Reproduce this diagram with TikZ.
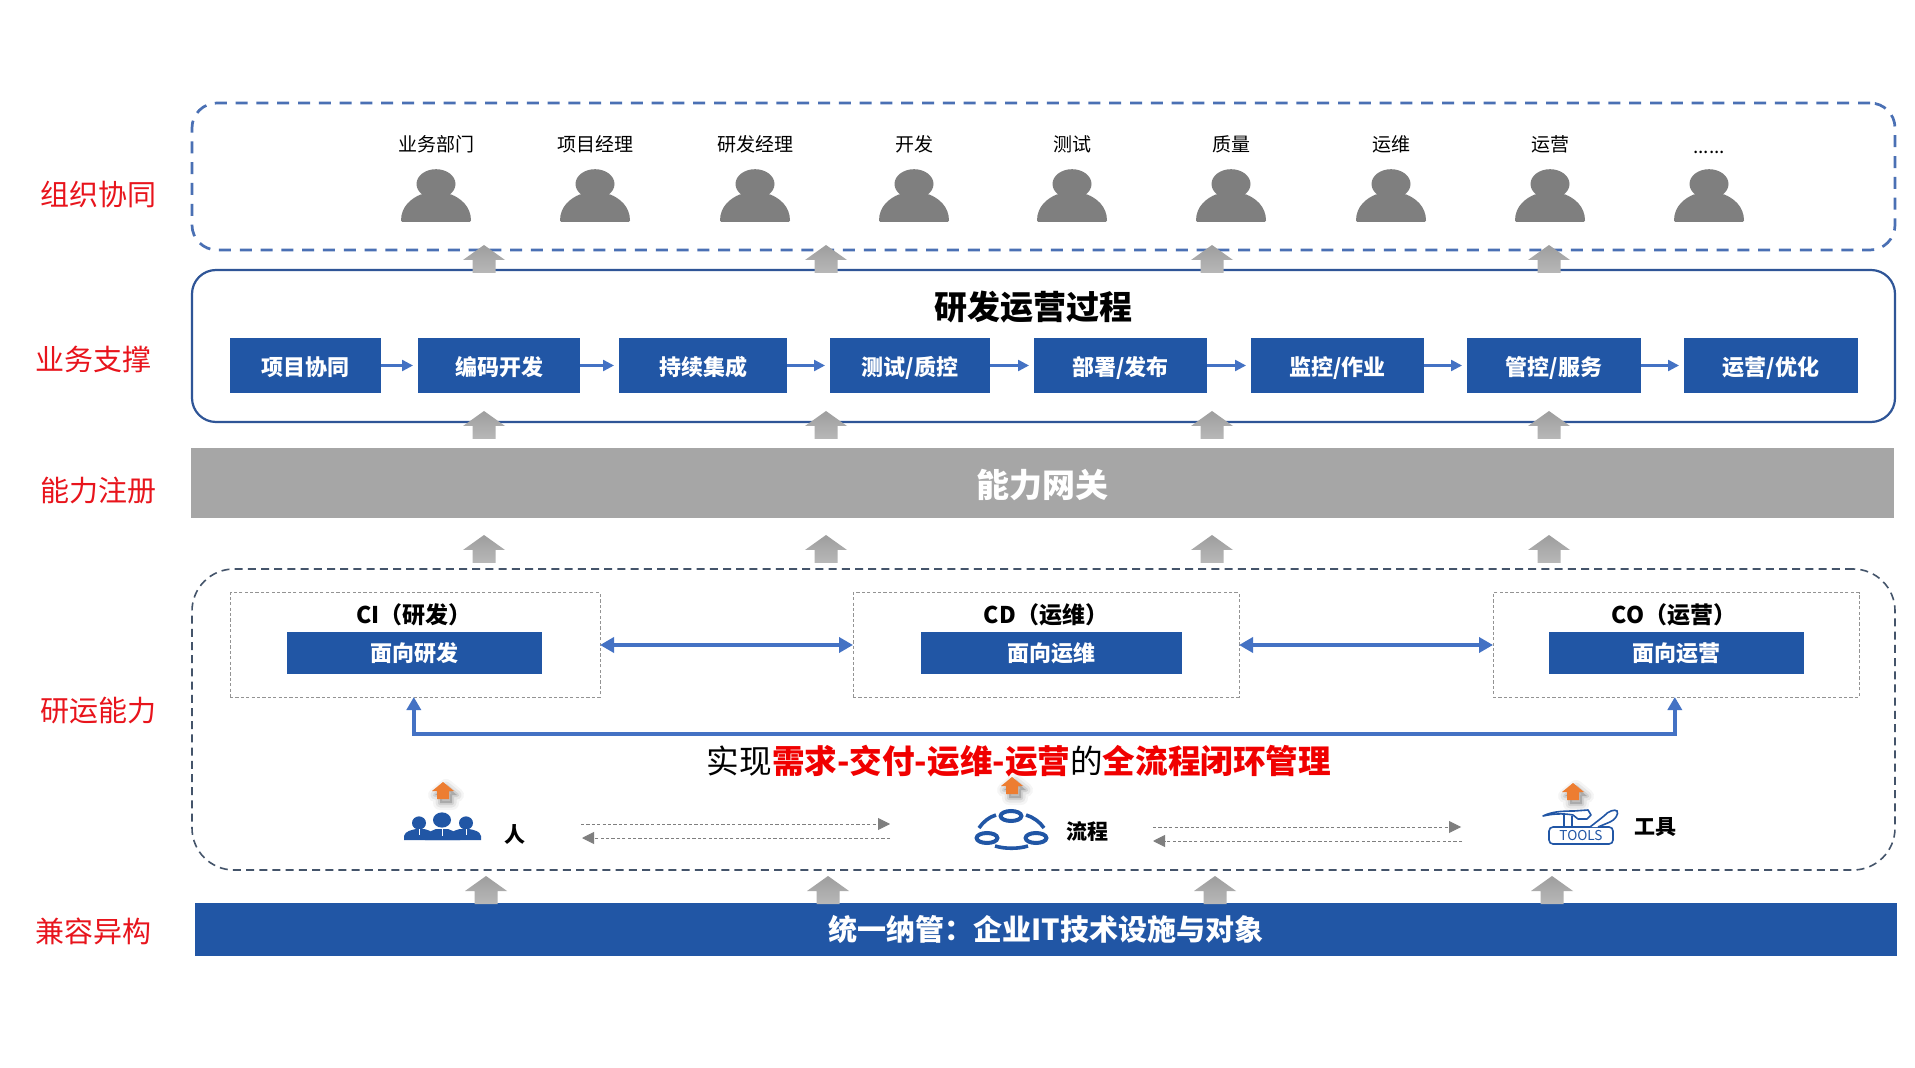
\documentclass[tikz,border=0pt]{standalone}
\usepackage{fontspec}
\setmainfont{Noto Sans CJK SC}
\usetikzlibrary{arrows.meta}
\definecolor{boxblue}{HTML}{2156A5}
\definecolor{lineblue}{HTML}{4472C4}
\definecolor{outline}{HTML}{2F5597}
\definecolor{dashblue}{HTML}{4A70B4}
\definecolor{capdash}{HTML}{44546A}
\definecolor{persongray}{HTML}{7F7F7F}
\definecolor{gatewaygray}{HTML}{A6A6A6}
\definecolor{labelred}{HTML}{E8141C}
\definecolor{emred}{HTML}{F00000}
\definecolor{orangeup}{HTML}{ED7D31}
\newcommand\sixdots{\raisebox{-0.9pt}[8.4pt][1.1pt]{......}}
\tikzset{
  boxsize/.style 2 args={minimum width=#1*0.5pt,minimum height=#2*0.5pt,inner sep=0pt,outer sep=0pt},
  sidelabel/.style={text=labelred,font=\fontsize{14.5}{16}\selectfont,inner sep=0pt},
  rolelabel/.style={text=black,font=\fontsize{9.5}{11}\selectfont,inner sep=0pt},
  stagebox/.style={fill=boxblue,text=white,font=\fontsize{11}{13}\selectfont\bfseries},
  processbox/.style={stagebox,text height=10.4pt,text depth=0pt},
  capframe/.style={draw=gray!85,line width=0.5pt,dash pattern=on 1.6pt off 1.1pt},
  caphead/.style={text=black,font=\fontsize{11.5}{13}\selectfont\bfseries,inner sep=0pt},
  iconlabel/.style={text=black,font=\fontsize{10.5}{12}\selectfont\bfseries,inner sep=0pt},
  flowarrow/.style={draw=lineblue,line width=1.2pt,-{Triangle[length=5.5pt,width=5.5pt]},shorten >=2.5pt},
  bothways/.style={draw=lineblue,line width=2.4pt,{Triangle[length=7pt,width=7.5pt]}-{Triangle[length=7pt,width=7.5pt]}},
  looparrow/.style={draw=lineblue,line width=2.3pt,{Triangle[length=6.5pt,width=7pt]}-{Triangle[length=6.5pt,width=7pt]}},
  dotarrow/.style={draw=persongray,line width=0.45pt,dash pattern=on 1.6pt off 1.1pt,-{Triangle[length=6pt,width=6pt]}},
  person/.pic={
    \fill[persongray,rounded corners=0.7pt] (-35,38) .. controls (-35,22) and (-24,14) .. (-14,10) -- (14,10) .. controls (24,14) and (35,22) .. (35,38) -- cycle;
    \fill[persongray] (0,0) ellipse [x radius=9.75pt,y radius=7.4pt];
  },
  grayup/.pic={
    \shade[top color=gatewaygray!95!black,bottom color=gatewaygray!80!white] (0,0) -- (21,15) -- (11.5,15) -- (11.5,28) -- (-11.5,28) -- (-11.5,15) -- (-21,15) -- cycle;
  },
  orangeup/.pic={
    \foreach \w/\o in {7pt/0.04,4.5pt/0.06,2pt/0.09}{
      \draw[black,opacity=\o,line width=\w,line join=round,fill=black] (3,4) -- (14,13) -- (9,13) -- (9,21) -- (-3,21) -- (-3,13) -- (-8,13) -- cycle;
    }
    \fill[orangeup] (0,0) -- (11,9) -- (6,9) -- (6,17) -- (-6,17) -- (-6,9) -- (-11,9) -- cycle;
  },
}
\begin{document}
\begin{tikzpicture}[x=0.5pt,y=-0.5pt]
\useasboundingbox (0,0) rectangle (1915,1068);
\fill[white] (0,0) rectangle (1915,1068);

% containers
\node[boxsize={1703}{147},rounded corners=12.5pt,draw=dashblue,line width=1.35pt,dash pattern=on 6pt off 4.4pt] (org) at (1043.5,176.5) {};
\node[boxsize={1703}{152},rounded corners=12pt,draw=outline,line width=1.1pt] (proc) at (1043.5,346) {};
\node[boxsize={1703}{70},fill=gatewaygray,text=white,font=\fontsize{16.5}{19}\selectfont\bfseries,text height=14.6pt,text depth=0.9pt] (gate) at (1042.5,483.5) {能力网关};
\node[boxsize={1703}{301},rounded corners=21pt,draw=capdash,line width=0.8pt,dash pattern=on 4pt off 2.6pt] (cap) at (1043.5,719.5) {};
\node[boxsize={1702}{53},fill=boxblue,text=white,font=\fontsize{14.5}{17}\selectfont\bfseries] (base) at (1046,929.5) {统一纳管：企业IT技术设施与对象};

% side labels
\node[sidelabel] (l1) at (98,195) {组织协同};
\node[sidelabel] (l2) at (93,359) {业务支撑};
\node[sidelabel] (l3) at (98,491) {能力注册};
\node[sidelabel] (l4) at (98,711) {研运能力};
\node[sidelabel] (l5) at (93,931) {兼容异构};

% roles
\foreach \x/\t [count=\i] in {436/业务部门,595/项目经理,755/研发经理,914/开发,1072/测试,1231/质量,1391/运维,1550/运营,1709/\sixdots}{
  \node[rolelabel] (role\i) at (\x,144) {\t};
  \pic at (\x,184) {person};
}

% process
\node[text=black,font=\fontsize{16.5}{19}\selectfont\bfseries,inner sep=0pt] (ptitle) at (1033,307) {研发运营过程};
\node[processbox,boxsize={151}{55}] (s1) at (305.5,365.5) {项目协同};
\node[processbox,boxsize={162}{55}] (s2) at (499,365.5) {编码开发};
\node[processbox,boxsize={168}{55}] (s3) at (703,365.5) {持续集成};
\node[processbox,boxsize={160}{55}] (s4) at (910,365.5) {测试/质控};
\node[processbox,boxsize={173}{55}] (s5) at (1120.5,365.5) {部署/发布};
\node[processbox,boxsize={173}{55}] (s6) at (1337.5,365.5) {监控/作业};
\node[processbox,boxsize={174}{55}] (s7) at (1554,365.5) {管控/服务};
\node[processbox,boxsize={174}{55}] (s8) at (1771,365.5) {运营/优化};
\foreach \a/\b in {s1/s2,s2/s3,s3/s4,s4/s5,s5/s6,s6/s7,s7/s8}{
  \draw[flowarrow] (\a) -- (\b);
}

% capability frames
\node[capframe,boxsize={370}{104}] (ci) at (415,645) {};
\node[capframe,boxsize={386}{104}] (cd) at (1046,645) {};
\node[capframe,boxsize={366}{104}] (co) at (1676,645) {};
\node[caphead] (cih) at (414,615) {CI（研发）};
\node[caphead] (cdh) at (1046,615) {CD（运维）};
\node[caphead] (coh) at (1674,615) {CO（运营）};
\node[stagebox,boxsize={255}{42}] (cib) at (414.5,653) {面向研发};
\node[stagebox,boxsize={261}{42}] (cdb) at (1051.5,653) {面向运维};
\node[stagebox,boxsize={255}{42}] (cob) at (1676.5,653) {面向运营};
\draw[bothways] (ci) -- (cd);
\draw[bothways] (cd) -- (co);
\draw[looparrow] ([xshift=-0.6pt]ci.south) -- ++(0,37) -| ([xshift=-0.6pt]co.south);

\node[inner sep=0pt,text=black,font=\fontsize{16.3}{19}\selectfont] (goal) at (1019,761) {实现\textcolor{emred}{\bfseries 需求-交付-运维-运营}的\textcolor{emred}{\bfseries 全流程闭环管理}};

% gray block arrows
\foreach \x in {484,826,1212,1549}{
  \pic at (\x,245) {grayup};
  \pic at (\x,411) {grayup};
  \pic at (\x,535) {grayup};
}
\foreach \x in {486,828,1215,1552}{
  \pic at (\x,876) {grayup};
}

% people icon
\pic at (443,782) {orangeup};
\fill[boxblue] (404,840) -- (404,836) .. controls (405,831) and (412,830) .. (416,829) -- (424,829) .. controls (428,830) and (431,831) .. (433,833) -- (451,833) .. controls (453,831) and (456,830) .. (460,829) -- (469,829) .. controls (474,830) and (480,831) .. (481,836) -- (481,840) -- cycle;
\fill[boxblue] (425,840) .. controls (425,832) and (432,831) .. (436,829) -- (448,829) .. controls (452,831) and (460,832) .. (460,840) -- cycle;
\fill[boxblue] (419,823) ellipse [x radius=3.5pt,y radius=3.3pt];
\fill[boxblue] (442,820) ellipse [x radius=4.5pt,y radius=3.8pt];
\fill[boxblue] (466,823) ellipse [x radius=3.5pt,y radius=3.3pt];
\draw[white,line width=0.5pt] (419,829) -- (419,835) (442,829) -- (442,836) (466,829) -- (466,835);
\node[iconlabel] (ren) at (515,835) {人};

% process icon
\pic at (1012,777) {orangeup};
\foreach \x/\y in {1011/816,987/838,1036/838}{
  \draw[boxblue,line width=2pt] (\x,\y) ellipse [x radius=5.2pt,y radius=2.5pt];
}
\draw[boxblue,line width=1.8pt] (979,828) .. controls (983,822) and (989,817) .. (996,815);
\draw[boxblue,line width=1.8pt] (1026,815) .. controls (1033,817) and (1040,822) .. (1044,828);
\draw[boxblue,line width=1.8pt] (995,846) .. controls (1005,849) and (1018,849) .. (1028,846);
\node[iconlabel] (liu) at (1087,831) {流程};

% tools icon
\pic at (1573,783) {orangeup};
\draw[boxblue,line width=0.8pt,rounded corners=2pt] (1549,827) -- (1549,844) -- (1613,844) -- (1613,827) -- cycle;
\node[text=boxblue,font=\fontsize{6.8}{7}\selectfont,inner sep=0pt] (toolsword) at (1581,835.5) {TOOLS};
\draw[boxblue,line width=0.8pt,line join=round,fill=white] (1543,816) .. controls (1551,812) and (1560,811) .. (1574,811) -- (1588,810) -- (1591,815) -- (1587,819) -- (1578,819) -- (1573,815) .. controls (1562,813) and (1552,814) .. (1543,816) -- cycle;
\draw[boxblue,line width=0.8pt] (1564,815) -- (1564,827) (1572,816) -- (1572,827);
\draw[boxblue,line width=0.8pt,fill=white] (1590,827) -- (1604,816) .. controls (1608,811) and (1615,809) .. (1617,811) .. controls (1619,814) and (1615,820) .. (1610,822) -- (1598,827);
\node[iconlabel] (gong) at (1655,827) {工具};

% dotted arrows between icons
\coordinate (d1a) at (581,824); \coordinate (d1b) at (890,824);
\coordinate (d2a) at (890,838); \coordinate (d2b) at (582,838);
\coordinate (d3a) at (1153,827); \coordinate (d3b) at (1461,827);
\coordinate (d4a) at (1462,841); \coordinate (d4b) at (1153,841);
\draw[dotarrow] (d1a) -- (d1b);
\draw[dotarrow] (d2a) -- (d2b);
\draw[dotarrow] (d3a) -- (d3b);
\draw[dotarrow] (d4a) -- (d4b);
\end{tikzpicture}
\end{document}
